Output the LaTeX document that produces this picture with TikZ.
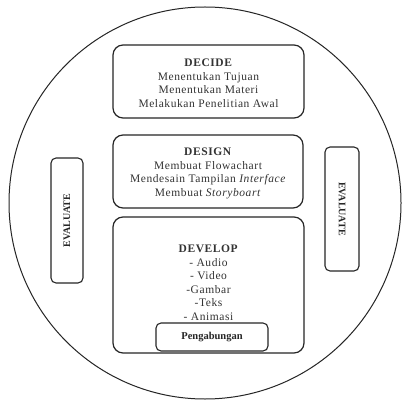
\documentclass[tikz,border=0pt]{standalone}
\usepackage{fontspec}
\setmainfont{Liberation Serif}
\newfontfamily\bodyfont[LetterSpace=5]{Liberation Serif}
\begin{document}
\begin{tikzpicture}[x=1pt,y=-1pt,
  bigbox/.style={draw=black!85,line width=1.2pt,rounded corners=10pt,inner sep=0pt},
  evalbox/.style={draw=black!85,line width=1.1pt,rounded corners=5pt,inner sep=0pt},
  body/.style={align=center,font=\bodyfont\fontsize{11.5}{13.5}\selectfont,text=black!80},
  evaltext/.style={font=\fontsize{10}{11}\selectfont\bfseries,text=black!85}]
\useasboundingbox (0,0) rectangle (402,403);
\fill[white] (0,0) rectangle (402,403);
\draw[line width=1pt,black!85] (205,203) circle[radius=196];
\node[bigbox,minimum width=191pt,minimum height=73pt] (decide) at (208.5,81.5) {};
\node[body] (decidetext) at (208.5,83.5)
  {\textbf{DECIDE}\\Menentukan Tujuan\\Menentukan Materi\\Melakukan Penelitian Awal};
\node[bigbox,minimum width=190pt,minimum height=73pt] (design) at (208,171.5) {};
\node[body] (designtext) at (208,173.5)
  {\textbf{DESIGN}\\Membuat Flowachart\\Mendesain Tampilan \textit{Interface}\\Membuat \textit{Storyboart}};
\node[bigbox,minimum width=191pt,minimum height=136pt] (develop) at (208.5,285) {};
\node[body,anchor=north] (devtext) at (208.5,241.5)
  {\textbf{DEVELOP}\\- Audio\\- Video\\-Gambar\\-Teks\\- Animasi};
\node[evalbox,minimum width=112pt,minimum height=28pt,font=\fontsize{10.5}{11}\selectfont\bfseries,text=black!85] (gabung) at (212,337) {Pengabungan};
\node[evalbox,minimum width=32pt,minimum height=125pt] (evl) at (67,220.5) {};
\node[evaltext,rotate=90] (evltext) at (evl.center) {EVALUATE};
\node[evalbox,minimum width=34pt,minimum height=124pt] (evr) at (342,209) {};
\node[evaltext,rotate=-90] (evrtext) at (evr.center) {EVALUATE};
\end{tikzpicture}
\end{document}
